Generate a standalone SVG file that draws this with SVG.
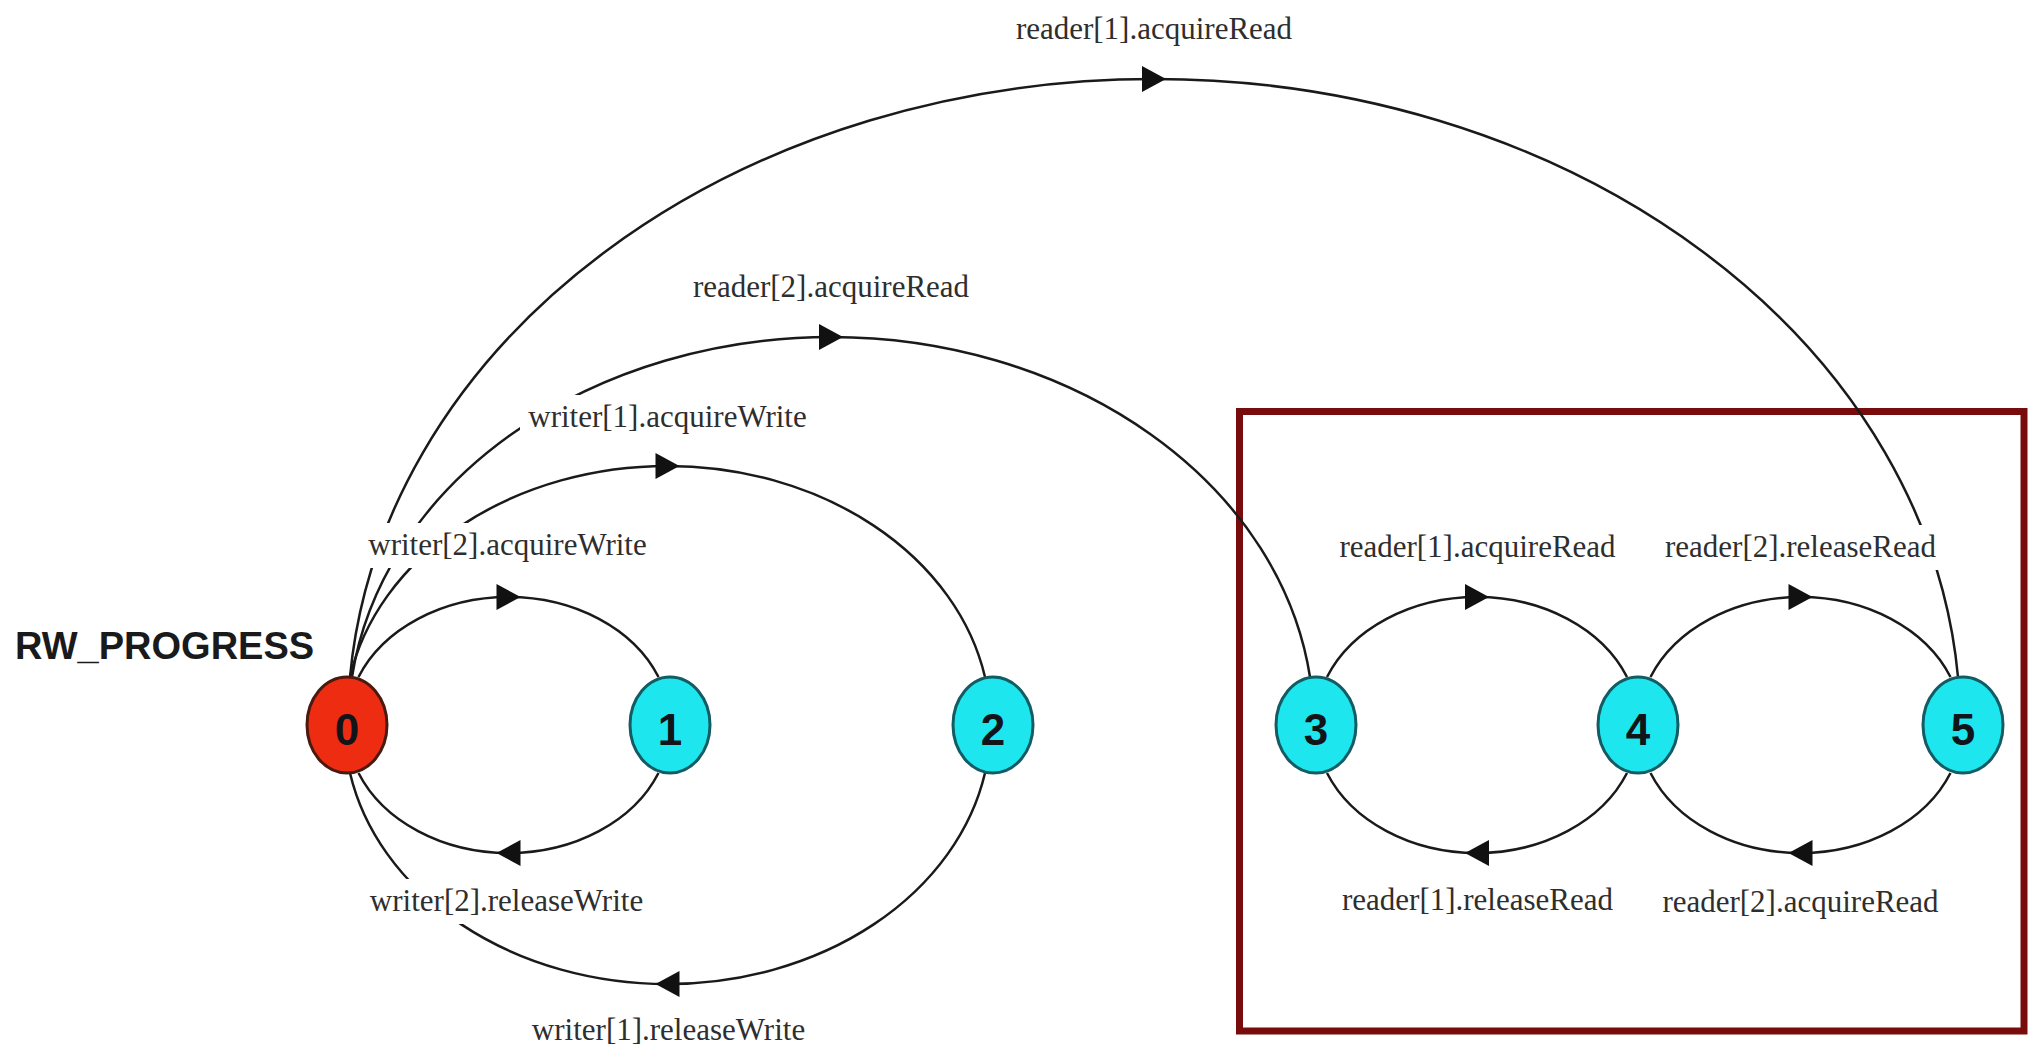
<svg xmlns="http://www.w3.org/2000/svg" width="2033" height="1049" viewBox="0 0 2033 1049">
  <style>
    .edge { fill: none; stroke: #1a1a1a; stroke-width: 2.5; marker-mid: url(#ah); }
    .lbl { font-family: "Liberation Serif", "Times New Roman", serif; font-size: 31px; fill: #2e2e2e; text-anchor: middle; }
    .lbg { fill: #ffffff; }
    .node ellipse { stroke-width: 3; }
    .cyan ellipse { fill: #1ee6ee; stroke: #135c63; }
    .red ellipse { fill: #ee2c12; stroke: #4a1a10; }
    .num { font-family: "Liberation Sans", Arial, sans-serif; font-weight: bold; font-size: 44px; fill: #111418; text-anchor: middle; }
    .title { font-family: "Liberation Sans", Arial, sans-serif; font-weight: bold; font-size: 38px; fill: #1a1a1a; }
  </style>
  <defs>
    <marker id="ah" markerUnits="userSpaceOnUse" markerWidth="24" markerHeight="26" refX="12" refY="13" orient="auto" viewBox="0 0 24 26" overflow="visible">
      <path d="M0,0 L24,13 L0,26 z" fill="#111"/>
    </marker>
  </defs>
  <rect width="2033" height="1049" fill="#ffffff"/>

  <g id="cluster">
    <rect x="1239.5" y="411.5" width="784.5" height="619.5" fill="none" stroke="#780c0c" stroke-width="7"/>
  </g>

  <text id="title" class="title" x="15" y="659">RW_PROGRESS</text>

  <g id="connectors">
    <path id="e0-5" class="edge" d="M350,677 A806,646 0 0 1 1154,79 A806,646 0 0 1 1958,677"/>
    <path id="e0-3" class="edge" d="M352,677 A483,388 0 0 1 831,337 A483,388 0 0 1 1310,677"/>
    <path id="e0-2" class="edge" d="M350,677 A323,259 0 0 1 667.5,466 A323,259 0 0 1 985,677"/>
    <path id="e2-0" class="edge" d="M985,773 A323,259 0 0 1 667.5,984 A323,259 0 0 1 350,773"/>
    <path id="e0-1" class="edge" d="M358.5,677 A161.8,128 0 0 1 508.5,597 A161.8,128 0 0 1 658.5,677"/>
    <path id="e1-0" class="edge" d="M658.5,773 A161.8,128 0 0 1 508.5,853 A161.8,128 0 0 1 358.5,773"/>
    <path id="e3-4" class="edge" d="M1327,677 A161.8,128 0 0 1 1477,597 A161.8,128 0 0 1 1627,677"/>
    <path id="e4-3" class="edge" d="M1627,773 A161.8,128 0 0 1 1477,853 A161.8,128 0 0 1 1327,773"/>
    <path id="e4-5" class="edge" d="M1650.5,677 A161.8,128 0 0 1 1800.5,597 A161.8,128 0 0 1 1950.5,677"/>
    <path id="e5-4" class="edge" d="M1950.5,773 A161.8,128 0 0 1 1800.5,853 A161.8,128 0 0 1 1650.5,773"/>
  </g>

  <g id="edge-labels">
    <rect class="lbg" x="1008" y="7" width="292" height="45"/>
    <text class="lbl" x="1154" y="39">reader[1].acquireRead</text>
    <rect class="lbg" x="685" y="265" width="292" height="45"/>
    <text class="lbl" x="831" y="297">reader[2].acquireRead</text>
    <rect class="lbg" x="520" y="395" width="296" height="45"/>
    <text class="lbl" x="667.5" y="427">writer[1].acquireWrite</text>
    <rect class="lbg" x="360" y="523" width="296" height="45"/>
    <text class="lbl" x="507.5" y="555">writer[2].acquireWrite</text>
    <rect class="lbg" x="362" y="879" width="290" height="45"/>
    <text class="lbl" x="506.5" y="911">writer[2].releaseWrite</text>
    <rect class="lbg" x="524" y="1008" width="290" height="41"/>
    <text class="lbl" x="668.5" y="1040">writer[1].releaseWrite</text>
    <rect class="lbg" x="1331" y="525" width="292" height="45"/>
    <text class="lbl" x="1477.5" y="557">reader[1].acquireRead</text>
    <rect class="lbg" x="1334" y="878" width="287" height="45"/>
    <text class="lbl" x="1477.5" y="910">reader[1].releaseRead</text>
    <rect class="lbg" x="1657" y="525" width="288" height="45"/>
    <text class="lbl" x="1800.5" y="557">reader[2].releaseRead</text>
    <rect class="lbg" x="1654" y="880" width="292" height="45"/>
    <text class="lbl" x="1800.5" y="912">reader[2].acquireRead</text>
  </g>

  <g id="node0" class="node red">
    <ellipse cx="347" cy="725" rx="40" ry="48"/>
    <text class="num" x="347" y="745">0</text>
  </g>
  <g id="node1" class="node cyan">
    <ellipse cx="670" cy="725" rx="40" ry="48"/>
    <text class="num" x="670" y="745">1</text>
  </g>
  <g id="node2" class="node cyan">
    <ellipse cx="993" cy="725" rx="40" ry="48"/>
    <text class="num" x="993" y="745">2</text>
  </g>
  <g id="node3" class="node cyan">
    <ellipse cx="1316" cy="725" rx="40" ry="48"/>
    <text class="num" x="1316" y="745">3</text>
  </g>
  <g id="node4" class="node cyan">
    <ellipse cx="1638" cy="725" rx="40" ry="48"/>
    <text class="num" x="1638" y="745">4</text>
  </g>
  <g id="node5" class="node cyan">
    <ellipse cx="1963" cy="725" rx="40" ry="48"/>
    <text class="num" x="1963" y="745">5</text>
  </g>
</svg>
